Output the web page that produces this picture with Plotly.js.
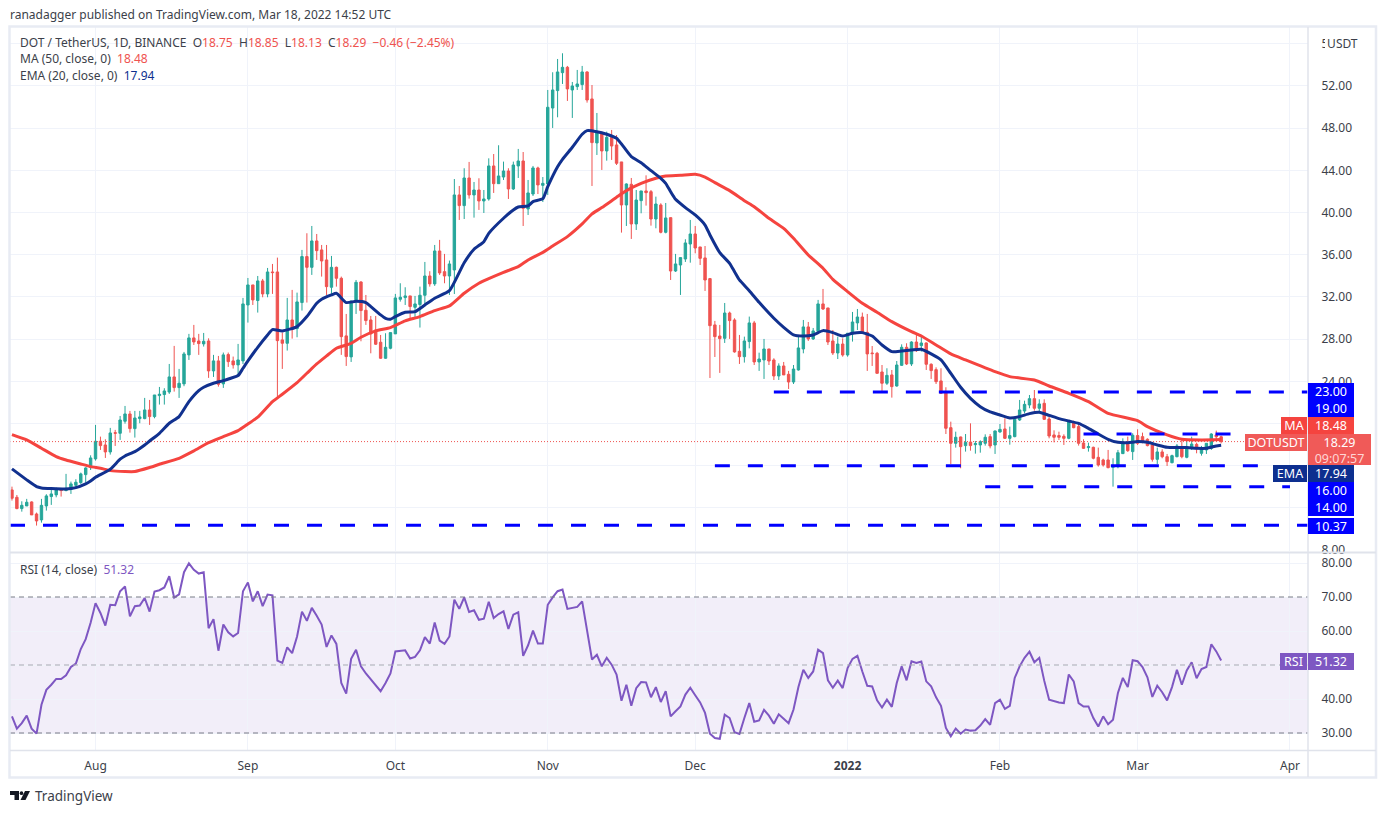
<!DOCTYPE html>
<html><head><meta charset="utf-8">
<script src="https://cdn.plot.ly/plotly-3.0.1.min.js"></script>
<style>html,body{margin:0;padding:0;background:#fff;overflow:hidden}#c{width:1386px;height:813px}</style>
</head><body><div id="c"></div>
<script>
const startDay = '2021-07-15';
const open = [13.71,13.01,11.94,12.19,12.57,11.43,10.87,12.19,13.08,13.24,
13.77,13.65,13.77,14.15,14.40,15.16,15.86,16.65,18.32,17.97,
17.31,19.14,19.08,20.22,20.91,19.52,20.47,20.47,21.29,20.66,
22.65,22.75,22.99,24.42,23.41,23.76,26.51,28.12,27.83,27.55,
27.83,24.99,25.94,23.76,26.54,25.94,25.56,25.94,31.24,33.14,
31.66,33.52,32.29,34.37,34.37,27.93,27.61,29.82,29.00,31.47,
35.83,34.81,37.31,36.46,35.51,32.92,34.81,33.77,28.31,26.32,
31.56,33.42,30.74,29.82,28.87,27.71,26.19,27.14,28.50,31.78,
31.94,32.10,31.02,31.28,32.16,33.99,33.24,36.36,34.40,33.99,
34.56,41.67,40.66,43.28,41.67,42.14,41.10,41.29,44.42,42.74,
43.37,43.94,42.24,44.42,44.89,40.34,41.76,44.23,42.58,42.71,
49.91,51.56,53.26,53.77,51.62,51.94,52.13,53.33,50.77,46.60,
47.55,45.84,47.13,46.41,44.80,40.72,42.68,38.92,41.13,42.05,
41.98,39.39,40.72,38.13,39.52,34.46,35.03,35.60,37.02,37.97,
36.74,35.70,33.74,29.35,28.30,28.08,30.48,29.82,26.85,26.34,
27.77,29.54,25.84,26.03,27.07,26.03,24.51,25.46,24.67,23.94,
25.08,27.07,29.16,28.02,28.75,31.34,30.96,27.83,26.69,27.54,
26.50,28.49,29.54,30.10,28.65,26.69,26.66,24.89,23.82,24.61,
23.56,25.52,27.23,25.65,27.73,27.39,27.64,25.62,25.11,24.04,
23.03,19.61,18.13,18.73,17.91,18.25,18.00,17.97,18.13,18.76,
17.97,19.20,19.49,18.60,18.76,20.34,21.19,21.76,22.36,21.45,
21.92,20.43,18.92,18.86,18.79,18.60,20.12,19.71,18.16,17.72,
17.75,16.80,16.55,16.55,15.85,15.92,17.15,18.13,17.34,18.86,
18.76,18.51,17.97,16.61,17.31,16.86,16.29,16.86,17.75,16.80,
17.65,18.03,17.18,17.50,17.65,18.92,18.75];
const high = [14.02,13.23,12.63,12.86,12.63,11.56,12.86,13.30,13.87,13.93,
13.84,15.23,14.50,14.72,15.35,15.86,16.99,19.87,18.76,18.51,
19.59,19.40,20.72,21.67,21.20,21.20,21.20,22.43,22.24,22.71,
23.47,23.35,25.65,27.36,25.18,26.79,28.50,29.35,28.50,28.59,
28.08,26.51,26.41,26.73,26.73,26.35,27.55,31.91,33.80,33.14,
33.99,33.71,34.75,35.13,35.73,28.62,31.91,32.67,32.41,36.46,
38.04,38.73,37.97,36.93,36.93,35.89,34.88,33.93,30.39,31.62,
33.61,33.49,32.19,30.20,30.20,28.40,28.56,28.62,32.29,33.30,
32.92,32.10,32.10,32.98,35.32,34.44,36.93,37.41,36.08,35.45,
43.18,42.52,44.20,44.80,42.90,43.25,42.14,45.14,45.55,46.38,
44.83,44.20,44.83,46.03,45.74,43.09,44.42,44.35,43.37,51.62,
53.30,54.56,55.10,53.90,52.38,53.52,53.90,53.39,52.09,49.44,
47.67,47.67,47.83,47.35,44.80,42.77,43.28,42.14,42.05,43.53,
42.14,41.51,40.88,40.91,39.52,36.08,35.76,37.47,39.30,38.73,
36.74,36.83,33.80,29.73,29.35,31.43,30.61,29.98,28.40,28.24,
30.14,29.73,26.72,28.02,27.07,26.19,25.71,25.84,24.99,25.55,
28.24,29.82,29.63,29.06,31.72,32.76,30.96,28.87,28.24,28.08,
28.56,30.58,30.86,30.52,30.39,27.35,26.79,25.55,25.24,25.08,
25.93,27.51,27.61,27.80,28.40,28.40,27.70,25.71,25.33,25.24,
23.44,20.18,19.23,18.76,19.01,20.02,18.35,18.41,18.98,19.01,
19.33,19.96,20.50,19.71,20.59,22.24,22.17,22.71,23.18,22.30,
22.30,20.81,19.36,19.23,18.98,20.34,20.28,19.96,18.51,18.19,
17.81,17.72,16.67,17.50,16.71,17.50,18.60,18.76,19.08,19.46,
19.14,18.60,18.13,17.72,17.56,17.12,17.05,18.06,18.44,18.44,
18.76,18.19,17.88,18.13,19.08,19.33,18.85];
const low = [12.70,11.88,11.65,12.19,11.34,10.33,10.61,11.75,12.29,13.01,
13.08,13.58,13.33,13.90,14.28,14.40,15.60,16.49,17.50,16.74,
17.06,17.88,18.45,19.99,19.14,18.67,20.03,20.41,19.87,20.50,
21.80,21.80,22.81,23.03,22.43,23.54,26.03,27.45,26.51,27.30,
24.33,24.42,23.50,23.38,25.37,25.21,24.51,25.65,29.57,31.24,
30.52,31.97,31.97,32.29,22.52,25.18,26.92,28.05,28.18,30.71,
31.47,34.09,35.51,33.93,32.19,32.10,32.98,26.51,25.46,25.84,
30.39,27.80,29.35,26.66,27.45,26.13,26.13,27.04,28.50,31.56,
31.24,29.98,29.98,29.10,31.24,32.98,33.05,34.09,33.30,32.19,
32.28,39.30,39.39,41.32,39.52,40.25,39.96,41.13,41.86,42.74,
43.09,41.29,42.14,43.28,38.73,39.77,41.57,41.76,41.00,41.67,
48.02,49.03,52.19,50.58,48.97,51.62,51.62,50.42,42.52,45.46,
44.04,44.92,44.99,44.51,38.10,38.73,37.50,38.35,39.93,40.66,
38.76,38.51,38.03,38.03,33.61,34.37,32.19,35.32,35.25,36.14,
35.03,32.57,24.32,26.31,24.80,27.64,28.02,26.72,25.65,25.78,
27.13,25.55,24.99,24.23,25.55,24.13,24.13,24.61,23.28,23.75,
25.02,26.66,27.83,27.92,28.56,30.77,27.45,26.50,26.12,26.34,
26.34,27.77,28.87,28.49,24.99,25.46,24.76,23.03,23.66,22.46,
23.50,25.46,25.55,25.46,26.79,26.82,25.08,24.23,23.75,22.80,
19.01,16.17,17.72,15.76,17.34,17.43,17.15,17.24,17.91,17.65,
17.12,19.14,18.54,18.00,18.70,20.25,20.97,21.45,21.22,20.97,
20.34,18.60,18.22,18.44,17.97,18.51,19.55,17.91,17.59,17.34,
16.61,15.92,15.92,15.76,14.02,15.76,17.12,17.31,16.55,17.97,
18.13,17.84,16.39,16.17,16.71,15.98,16.23,16.80,16.71,16.71,
17.50,17.18,16.96,17.12,17.50,18.51,18.13];
const close = [12.92,11.94,12.25,12.54,11.34,10.77,12.25,13.14,13.33,13.71,
13.65,13.87,14.28,14.44,15.23,15.79,16.74,18.32,17.91,17.31,
19.11,19.08,20.34,20.91,19.52,20.53,20.63,21.29,20.66,22.71,
22.78,23.09,24.42,23.41,23.82,26.60,28.12,27.74,27.58,27.80,
24.99,25.94,23.72,26.51,25.87,25.56,26.03,31.34,33.14,31.72,
33.52,32.29,34.37,34.31,27.86,27.61,29.82,28.94,31.53,35.83,
34.81,37.31,36.39,35.41,32.98,34.81,33.77,28.24,26.35,31.62,
33.39,30.71,29.76,28.50,27.52,26.19,27.23,28.62,31.91,31.97,
32.10,31.09,31.34,32.16,33.99,33.24,36.36,34.28,33.99,35.13,
41.67,40.66,43.28,41.67,42.14,41.10,41.29,44.42,42.74,43.47,
43.94,42.24,44.51,44.89,40.40,41.86,44.23,42.62,42.77,49.98,
51.62,53.33,53.77,51.72,52.00,52.19,53.33,50.67,46.63,47.55,
45.84,47.13,46.31,44.67,40.72,42.71,38.92,41.19,42.05,41.89,
39.39,40.81,38.13,39.49,34.46,35.13,35.73,37.12,37.97,36.64,
35.66,33.61,29.28,28.24,28.05,30.48,29.76,26.79,26.34,27.83,
29.54,25.84,26.12,27.07,25.93,24.51,25.46,24.61,23.94,25.17,
27.17,29.16,28.02,28.78,31.34,30.86,27.73,26.69,27.54,26.50,
28.56,29.63,30.10,28.56,26.60,26.63,24.76,23.82,24.57,23.50,
25.55,27.23,25.65,27.73,26.91,27.64,25.62,25.02,23.97,22.87,
19.55,18.13,18.70,17.81,18.22,17.91,18.10,18.29,18.70,17.88,
19.30,19.45,18.60,18.86,20.40,21.29,21.82,22.36,21.45,21.86,
20.40,18.82,18.70,18.70,18.60,20.18,19.61,18.13,17.65,17.81,
16.71,16.07,16.07,15.82,15.92,17.24,18.06,17.43,18.89,18.13,
18.32,17.91,16.61,17.31,16.86,16.39,16.96,17.88,16.86,17.75,
18.06,17.59,17.65,18.13,19.01,18.75,18.29];
const rsi = [34.9,31.3,32.9,35.1,31.3,29.8,38.3,42.7,44.2,45.9,45.9,47.0,49.4,50.4,54.7,57.6,62.4,68.2,65.3,61.6,
67.7,67.6,71.7,73.1,64.3,67.3,67.5,69.7,65.7,71.6,72.0,72.8,76.1,69.8,70.8,77.3,79.9,78.0,76.9,77.3,
60.8,63.5,54.2,61.9,59.6,58.4,59.4,71.7,74.3,68.7,71.7,67.3,70.7,70.5,51.3,50.6,55.2,53.5,58.4,65.7,
63.0,66.8,64.5,61.9,55.3,58.7,56.2,44.7,41.6,51.8,54.5,49.6,47.5,45.7,44.2,42.3,44.7,47.5,54.0,54.2,
54.3,51.9,52.4,54.3,58.2,56.3,62.5,57.2,56.2,58.4,69.2,66.5,69.9,65.6,66.1,63.3,63.6,68.6,63.8,65.0,
65.8,60.6,64.8,65.5,52.7,55.8,60.1,56.3,56.3,67.7,69.9,71.7,72.2,66.5,66.8,67.1,68.7,60.4,51.6,53.0,
49.6,52.1,50.1,47.2,39.5,44.2,38.0,43.2,45.0,44.9,40.5,43.5,39.1,42.3,34.9,36.4,37.8,41.3,43.3,41.1,39.0,
35.9,29.8,28.5,28.3,35.4,34.4,30.2,29.7,34.4,38.8,33.3,33.7,36.8,35.1,32.7,35.5,34.2,32.9,36.9,43.5,
48.6,46.2,48.1,54.5,53.5,45.5,43.3,45.4,43.2,49.1,51.8,52.7,48.1,43.9,43.7,39.6,37.5,39.8,37.7,44.7,
49.6,45.5,51.1,50.6,51.0,45.2,43.7,40.5,38.0,31.5,29.0,31.3,29.8,31.0,30.7,30.8,32.2,34.1,32.4,38.8,
39.8,37.1,38.0,46.2,49.6,52.1,53.9,50.8,52.1,45.4,39.8,39.3,39.0,38.8,47.2,45.2,38.8,37.8,37.8,34.4,
31.9,34.9,32.6,33.9,41.8,46.2,43.5,51.4,51.1,49.4,46.4,40.6,43.9,42.0,39.6,43.5,48.6,44.2,48.4,50.8,
46.1,48.8,49.4,56.1,54.0,51.3];
const emaDays = [0,3,5,6,8,11,13,15,16,17,20,22,23,25,27,28,30,32,34,36,38,39,41,43,46,47,48,50,52,53,55,58,60,62,63,65,66,68,70,72,73,75,76,77,78,80,82,84,86,
89,92,94,96,97,100,102,103,105,106,108,109,111,112,114,116,117,119,121,123,124,126,128,130,132,133,134,135,137,139,141,142,144,146,147,148,150,152,155,157,159,161,163,165,167,169,171,173,175,177,179,
181,183,185,187,189,191,193,195,197,199,201,203,205,207,209,211,213,215,217,219,221,223,225,227,229,231,233,235,237,239,241,243,245,246];
const emaVals = [15.70,14.66,14.02,13.90,13.84,13.80,13.93,14.28,14.56,14.91,15.67,16.62,16.93,17.34,17.97,18.35,19.08,20.03,20.66,22.08,23.12,23.44,23.82,24.07,24.55,25.24,25.94,27.23,28.40,28.91,28.78,29.19,30.14,31.40,31.78,32.19,32.35,31.47,31.59,31.47,31.09,30.30,29.98,29.89,30.14,30.55,30.61,31.24,31.88,
32.60,35.25,36.52,37.24,38.03,39.46,40.25,40.53,40.63,41.04,41.32,42.46,44.35,45.05,46.19,47.42,47.77,47.67,47.42,47.04,46.50,45.30,44.73,43.97,43.25,42.77,41.98,41.26,40.47,39.77,38.82,37.88,36.20,35.19,34.40,33.61,32.60,31.49,29.98,29.12,28.40,28.30,28.40,28.81,28.62,28.30,28.56,28.62,28.30,27.45,26.82,
26.88,26.97,27.04,26.60,26.03,24.76,23.44,22.39,21.60,21.10,20.81,20.53,20.66,20.94,21.07,20.78,20.47,20.24,20.02,19.55,19.01,18.51,18.22,18.19,18.29,18.22,17.97,17.75,17.72,17.72,17.65,17.65,17.88,17.94];
const maDays = [0,3,6,9,11,14,16,18,20,23,25,28,30,34,37,40,43,46,48,50,53,55,58,60,62,64,66,69,71,74,77,80,83,86,89,
92,95,97,100,103,105,108,110,113,116,118,120,123,125,128,131,133,136,139,141,143,146,149,151,154,157,159,162,165,167,170,173,176,179,
183,185,188,191,194,200,203,208,211,215,219,223,229,231,235,238,242,246];
const maVals = [18.95,18.45,17.66,16.87,16.55,16.17,15.92,15.76,15.54,15.45,15.45,15.83,16.14,16.71,17.41,18.19,18.76,19.33,19.96,20.60,22.08,22.78,23.88,24.77,25.65,26.41,27.14,27.61,28.18,28.78,29.10,29.73,30.14,30.71,31.15,
32.35,33.30,33.74,34.34,34.87,35.51,36.23,36.83,37.72,38.92,39.87,40.47,41.45,42.08,42.77,43.25,43.47,43.53,43.63,43.37,42.84,42.08,41.13,40.56,39.46,38.51,37.56,35.98,34.72,33.67,32.51,31.40,30.55,29.66,
28.71,28.30,27.45,26.60,26.03,24.92,24.45,24.13,23.56,22.87,22.08,20.97,20.28,19.71,18.92,18.51,18.45,18.48];
const levels = [23, 19, 16, 14, 10.37];
const levelStart = ['2021-12-17', '2022-02-18', '2021-12-05', '2022-01-29', '2021-07-14 14:24'];
const levelEnd = ['2022-04-04 16:00', '2022-03-21', '2022-03-29', '2022-04-01', '2022-04-04 16:00'];
const monthDates = ['2021-08-01','2021-09-01','2021-10-01','2021-11-01','2021-12-01','2022-01-01','2022-02-01','2022-03-01','2022-04-01'];
const monthLabels = ['Aug','Sep','Oct','Nov','Dec','<b>2022</b>','Feb','Mar','Apr'];
const lastPrice = 18.29;

if (![high,low,close,rsi].every(a => a.length === open.length)) throw new Error('len '+[open.length,high.length,low.length,close.length,rsi.length]);

const dates = open.map((_, i) => new Date(Date.parse(startDay + 'T00:00:00Z') + i * 86400000).toISOString().slice(0, 10));
const W = 1386, H = 813, L = 10, R = 78, T = 27, B = 63;
const XL = '2021-07-14 14:24', XR = '2022-04-04 16:00';
const px = x => (x - L) / (W - L - R), py = y => 1 - (y - T) / (H - T - B);
const FONT = '"Noto Sans", "Open Sans", sans-serif';
const GRID = '#f0f3fa', EDGE = '#e8ebf3', RED = '#ef5350', GRN = '#26a69a', NAVY = '#0d2f8f', BLUE = '#0000ff', PUR = '#7e57c2';

const traces = [
  {type:'candlestick', x:dates, open, high, low, close, xaxis:'x', yaxis:'y', width:0.42*86400000, whiskerwidth:0,
   increasing:{line:{color:GRN,width:1},fillcolor:GRN}, decreasing:{line:{color:RED,width:1},fillcolor:RED}, showlegend:false, hoverinfo:'skip'},
  {type:'scatter', mode:'lines', x:[XL,XR], y:[lastPrice,lastPrice], line:{color:RED,width:1,dash:'1px,2px'}, yaxis:'y', hoverinfo:'skip'},
  {type:'scatter', mode:'lines', x:maDays.map(i=>dates[i]), y:maVals, line:{color:'#f5443f',width:3,shape:'spline',smoothing:0.5}, yaxis:'y', hoverinfo:'skip'},
  {type:'scatter', mode:'lines', x:emaDays.map(i=>dates[i]), y:emaVals, line:{color:'#11318f',width:3,shape:'spline',smoothing:0.5}, yaxis:'y', hoverinfo:'skip'}
];
levels.forEach((v,i)=>traces.push({type:'scatter', mode:'lines', x:[levelStart[i],levelEnd[i]], y:[v,v], line:{color:BLUE,width:3,dash:'15px,18px'}, yaxis:'y', hoverinfo:'skip'}));
traces.push({type:'scatter', mode:'lines', x:dates, y:rsi, line:{color:PUR,width:2}, xaxis:'x', yaxis:'y2', hoverinfo:'skip'});

const shapes = [
  {type:'rect', xref:'paper', yref:'y2', x0:0, x1:1, y0:30, y1:70, fillcolor:'rgba(126,87,194,0.1)', line:{width:0}, layer:'below'},
  {type:'line', xref:'paper', yref:'y2', x0:0, x1:1, y0:70, y1:70, line:{color:'#787b86',width:1,dash:'5px,4px'}},
  {type:'line', xref:'paper', yref:'y2', x0:0, x1:1, y0:50, y1:50, line:{color:'#a8a9b2',width:1,dash:'5px,4px'}},
  {type:'line', xref:'paper', yref:'y2', x0:0, x1:1, y0:30, y1:30, line:{color:'#787b86',width:1,dash:'5px,4px'}},
  // panel frame
  {type:'rect', xref:'paper', yref:'paper', x0:px(9.5), x1:px(1376), y0:py(777.5), y1:py(26.5), line:{color:EDGE,width:2.5}, fillcolor:'rgba(0,0,0,0)'},
  {type:'line', xref:'paper', yref:'paper', x0:px(1308), x1:px(1308), y0:py(777), y1:py(27), line:{color:'#e0e3eb',width:1.5}},
  {type:'line', xref:'paper', yref:'paper', x0:px(10), x1:px(1376), y0:py(552.5), y1:py(552.5), line:{color:'#e0e3eb',width:2}},
  {type:'line', xref:'paper', yref:'paper', x0:px(10), x1:px(1376), y0:py(750.5), y1:py(750.5), line:{color:'#e0e3eb',width:1.5}},
  // TradingView mark
  {type:'path', xref:'paper', yref:'paper', fillcolor:'#131722', line:{width:0},
   path:`M${px(10)},${py(791)} L${px(19)},${py(791)} L${px(19)},${py(800)} L${px(14.5)},${py(800)} L${px(14.5)},${py(795)} L${px(10)},${py(795)} Z`},
  {type:'circle', xref:'paper', yref:'paper', fillcolor:'#131722', line:{width:0}, x0:px(19.7), x1:px(23.3), y0:py(795), y1:py(791.3)},
  {type:'path', xref:'paper', yref:'paper', fillcolor:'#131722', line:{width:0},
   path:`M${px(25)},${py(791)} L${px(30)},${py(791)} L${px(25.5)},${py(800)} L${px(20.5)},${py(800)} Z`}
];

const note = (x,y,text,size,color,extra) => Object.assign({xref:'paper',yref:'paper',x:px(x),y:py(y),xanchor:'left',yanchor:'middle',text,showarrow:false,align:'left',font:{family:FONT,size:size||12,color:color||'#3c3f4a'}},extra||{});
const tag = (x,y,w,h,text,bg,color,size) => ({xref:'paper',yref:'paper',x:px(x),y:py(y),xanchor:'left',yanchor:'top',width:w,height:h,text,showarrow:false,align:'center',valign:'middle',borderpad:0,borderwidth:0,bgcolor:bg,font:{family:FONT,size:size||12.5,color:color||'#fff'}});
const annotations = [
  note(18,42,'DOT / TetherUS, 1D, BINANCE  O<span style="color:#ef5350">18.75</span>  H<span style="color:#ef5350">18.85</span>  L<span style="color:#ef5350">18.13</span>  C<span style="color:#ef5350">18.29</span>  <span style="color:#ef5350">−0.46 (−2.45%)</span>'),
  note(18,58.5,'MA (50, close, 0)  <span style="color:#ef5350">18.48</span>'),
  note(18,75.5,'EMA (20, close, 0)  <span style="color:#0d2f8f">17.94</span>'),
  note(18,569,'RSI (14, close)  <span style="color:#7e57c2">51.32</span>'),
  note(33,796,'TradingView',13.5,'#3c3f4a'),
  tag(1325,33,35,20,'USDT','#ffffff','#3c3f4a',12),
  tag(1308,383,46,17,'23.00',BLUE),
  tag(1308,400,46,17,'19.00',BLUE),
  tag(1308,417,46,17,'18.48','#f5443f'),
  tag(1281,417,26,17,'MA','#f5443f'),
  tag(1245,434,62,17,'DOTUSDT','#f05a58'),
  tag(1308,434,63,17,'18.29','#f05a58'),
  tag(1308,451,63,14,'09:07:57','#f05a58','#ffd5d4'),
  tag(1273,465,34,17,'EMA',NAVY),
  tag(1308,465,46,17,'17.94',NAVY),
  tag(1308,482,46,17,'16.00',BLUE),
  tag(1308,499,46,17,'14.00',BLUE),
  tag(1308,518,46,16,'10.37',BLUE),
  tag(1280,653,27,17,'RSI',PUR),
  tag(1308,653,46,17,'51.32',PUR)
];

const layout = {
  width:W, height:H, margin:{l:L,r:R,t:T,b:B,pad:0}, paper_bgcolor:'#fff', plot_bgcolor:'#fff', showlegend:false, hovermode:false,
  font:{family:FONT,size:12,color:'#3c3f4a'},
  title:{text:'ranadagger published on TradingView.com, Mar 18, 2022 14:52 UTC', x:10/W, xanchor:'left', xref:'container', y:1-15/H, yanchor:'middle', yref:'container', font:{family:FONT,size:12,color:'#3c3f4a'}},
  xaxis:{type:'date', range:[XL,XR], anchor:'y2', tickmode:'array', tickvals:monthDates, ticktext:monthLabels, showgrid:true, gridcolor:GRID, gridwidth:1, zeroline:false, rangeslider:{visible:false}, ticks:'outside', ticklen:5, tickcolor:'rgba(0,0,0,0)', tickangle:0, tickfont:{family:FONT,size:12,color:'#3c3f4a'}, showline:false},
  yaxis:{domain:[(750-551)/723,1], range:[7.92,57.59], side:'right', anchor:'x', tick0:0, dtick:4, tickformat:'.2f', showgrid:true, gridcolor:GRID, zeroline:false, ticks:'outside', ticklen:10, tickcolor:'rgba(0,0,0,0)', tickfont:{family:FONT,size:12,color:'#3c3f4a'}, showline:false},
  yaxis2:{domain:[0,197/723], range:[25,82.94], side:'right', anchor:'x', tick0:0, dtick:10, tickformat:'.2f', showgrid:true, gridcolor:GRID, zeroline:false, ticks:'outside', ticklen:10, tickcolor:'rgba(0,0,0,0)', tickfont:{family:FONT,size:12,color:'#3c3f4a'}, showline:false},
  shapes, annotations
};
Plotly.newPlot('c', traces, layout, {displayModeBar:false, responsive:false});
</script></body></html>
